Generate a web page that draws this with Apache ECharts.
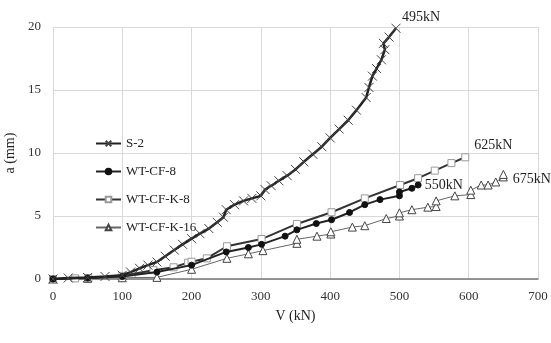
<!DOCTYPE html>
<html><head><meta charset="utf-8">
<script src="https://cdn.jsdelivr.net/npm/echarts@6/dist/echarts.min.js"></script>
<style>html,body{margin:0;padding:0;background:#fff}#c{width:551px;height:343px}</style>
</head><body><div id="c"></div>
<script>
var xTicks = [0,100,200,300,400,500,600,700];
var yTicks = [0,5,10,15,20];
var s2 = [[0,0],[22,0.08],[50,0.12],[75,0.2],[100,0.3],[112,0.55],[125,0.85],[137,1.1],[150,1.35],[162,1.8],[175,2.3],[187,2.75],[200,3.2],[212,3.6],[225,4.0],[237,4.5],[246,4.9],[250,5.5],[262,5.9],[275,6.2],[287,6.4],[300,6.6],[306,7.1],[315,7.4],[326,7.8],[338,8.2],[350,8.7],[362,9.3],[375,9.9],[388,10.5],[400,11.2],[413,11.9],[426,12.6],[438,13.4],[452,14.4],[456,15.2],[461,16.1],[467,16.7],[474,17.4],[479,18.2],[477,18.7],[485,19.2],[495,19.9]];
var cf8 = [[0,0],[50,0.08],[100,0.2],[150,0.55],[200,1.1],[250,2.15],[282,2.5],[301,2.75],[335,3.4],[352,3.9],[380,4.4],[402,4.7],[428,5.28],[450,5.9],[472,6.3],[500,6.6],[500,6.9],[518,7.2],[527,7.46]];
var cfk8 = [[0,0],[32,0.05],[51,0.08],[100,0.25],[145,0.7],[174,0.93],[195,1.3],[200,1.37],[222,1.64],[251,2.6],[301,3.17],[352,4.37],[402,5.3],[450,6.4],[501,7.46],[527,8.0],[551,8.6],[575,9.2],[595,9.66]];
var cfk16 = [[0,0],[50,0.05],[100,0.1],[150,0.13],[200,0.77],[251,1.64],[282,2.0],[303,2.25],[352,2.83],[352,3.15],[381,3.4],[401,3.57],[401,3.75],[432,4.12],[450,4.23],[481,4.8],[500,5.0],[500,5.25],[518,5.5],[541,5.7],[553,5.75],[553,6.2],[580,6.6],[603,6.7],[603,7.05],[618,7.46],[628,7.46],[639,7.7],[650,8.1],[650,8.3]];
var names = ['S-2','WT-CF-8','WT-CF-K-8','WT-CF-K-16'];
var ends = ['495kN','550kN','625kN','675kN'];

var F = '"Liberation Serif", "DejaVu Serif", serif';
var cross = 'path://M0,0L10,10M10,0L0,10';
function lastLabel(arr, text, offset){
  var d = arr.map(function(p){return {value:p};});
  d[d.length-1] = {value: arr[arr.length-1], label:{show:true, position:'right', offset:offset, formatter:text, fontFamily:F, fontSize:14, color:'#222'}};
  return d;
}
var chart = echarts.init(document.getElementById('c'), null, {renderer:'canvas'});
chart.setOption({
  animation:false,
  backgroundColor:'#fff',
  grid:{left:53,right:13,top:27,bottom:64,containLabel:false,outerBoundsMode:'none'},
  legend:{
    orient:'vertical', left:90, top:132, itemGap:15, itemWidth:25, itemHeight:7,
    textStyle:{fontFamily:F, fontSize:13, color:'#222'},
    data:names
  },
  xAxis:{type:'value',min:0,max:700,interval:100,
    name:'V (kN)',nameLocation:'middle',nameGap:30,
    nameTextStyle:{fontFamily:F,fontSize:14,color:'#222'},
    axisLine:{show:true,onZero:false,lineStyle:{color:'#777',width:1.5}},
    axisTick:{show:false},
    axisLabel:{fontFamily:F,fontSize:13,color:'#333',margin:11},
    splitLine:{show:true,lineStyle:{color:'#d9d9d9'}}},
  yAxis:{type:'value',min:0,max:20,interval:5,
    name:'a (mm)',nameLocation:'middle',nameGap:32,nameRotate:90,
    nameTextStyle:{fontFamily:F,fontSize:14,color:'#222'},
    axisLine:{show:false},axisTick:{show:false},
    axisLabel:{fontFamily:F,fontSize:13,color:'#333',margin:12},
    splitLine:{show:true,lineStyle:{color:'#d9d9d9'}}},
  series:[
    {name:names[0],type:'line',data:lastLabel(s2,ends[0],[-4,-11]),symbol:cross,symbolSize:9,
      lineStyle:{color:'#222',width:2.5},itemStyle:{color:'rgba(0,0,0,0)',borderColor:'#444',borderWidth:1},z:5},
    {name:names[1],type:'line',data:lastLabel(cf8,ends[1],[-2,0]),symbol:'circle',symbolSize:6,
      lineStyle:{color:'#222',width:2},itemStyle:{color:'#111',borderColor:'#111',borderWidth:1},z:4},
    {name:names[2],type:'line',data:lastLabel(cfk8,ends[2],[0,-12]),symbol:'rect',symbolSize:7,
      lineStyle:{color:'#333',width:2},itemStyle:{color:'#fff',borderColor:'#999',borderWidth:1},z:3},
    {name:names[3],type:'line',data:lastLabel(cfk16,ends[3],[0,5]),symbol:'triangle',symbolSize:8,
      lineStyle:{color:'#666',width:1},itemStyle:{color:'#fff',borderColor:'#444',borderWidth:1},z:2}
  ]
});
</script></body></html>
